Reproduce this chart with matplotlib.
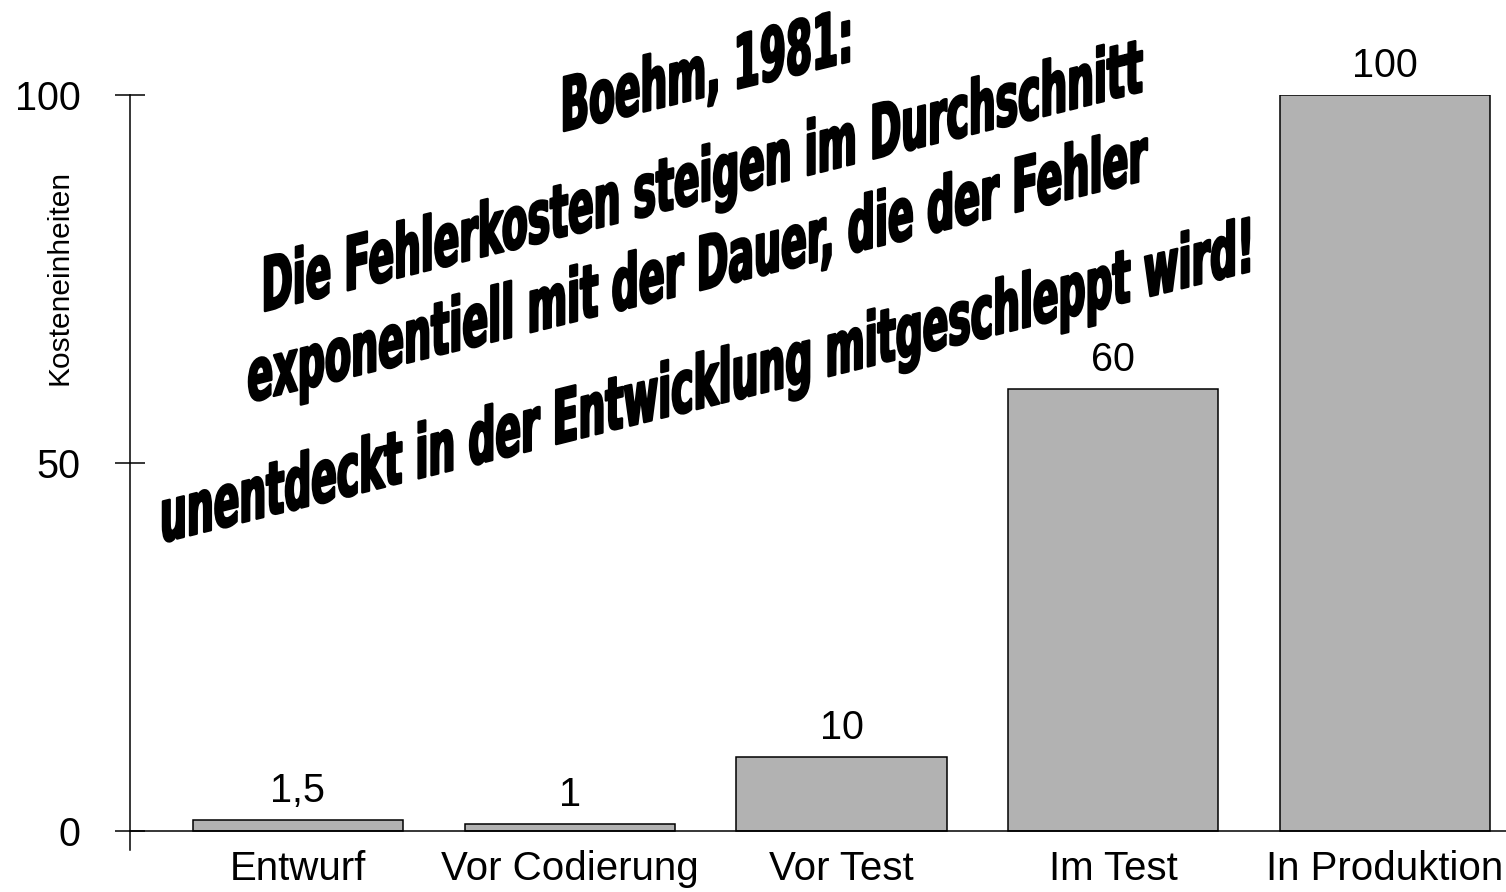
import numpy as np
import matplotlib
matplotlib.use("Agg")
import matplotlib.pyplot as plt
from matplotlib.textpath import TextPath
from matplotlib.font_manager import FontProperties
from matplotlib.patches import PathPatch
from matplotlib.transforms import Affine2D

plt.rcParams['font.family'] = ['Liberation Sans', 'DejaVu Sans']

# data
phases = ["Entwurf", "Vor Codierung", "Vor Test", "Im Test", "In Produktion"]
costs = [1.5, 1, 10, 60, 100]
cost_labels = ["1,5", "1", "10", "60", "100"]
yticks = [0, 50, 100]

headline = [
    "Boehm, 1981:",
    "Die Fehlerkosten steigen im Durchschnitt",
    "exponentiell mit der Dauer, die der Fehler",
    "unentdeckt in der Entwicklung mitgeschleppt wird!",
]
# baseline start/end in figure pixels (x0, y0, x1, y1), y measured from top
headline_base = [
    (563, 132, 850, 62),
    (264, 312, 1143, 92),
    (248, 403, 1148, 180),
    (162, 543, 1250, 272),
]

W, H = 1506, 892
fig = plt.figure(figsize=(W / 100, H / 100), dpi=100)

ax = fig.add_axes([130 / W, 42 / H, 1376 / W, 755 / H])
x = np.arange(len(phases))
ax.bar(x, costs, width=0.773, color='#b2b2b2', edgecolor='black', linewidth=1.1)

for xi, v, lab in zip(x, costs, cost_labels):
    ax.annotate(lab, (xi, v), xytext=(0, 13), textcoords='offset points',
                ha='center', va='baseline', fontsize=28.5)

ax.set_xlim(-0.618, 4.445)
ax.set_ylim(-2.58, 100)
ax.spines['top'].set_visible(False)
ax.spines['right'].set_visible(False)
ax.spines['bottom'].set_position(('data', 0))
ax.spines['left'].set_linewidth(1.1)
ax.spines['bottom'].set_linewidth(1.1)

ax.set_yticks(yticks)
ax.tick_params(axis='y', direction='inout', length=21.6, width=1.1, pad=25, labelsize=28.5)
ax.set_xticks(x)
ax.set_xticklabels(phases)
ax.tick_params(axis='x', length=0, pad=14, labelsize=29)

fig.text(60 / W, 1 - 277 / H, "Kosteneinheiten", rotation=90, ha='center', va='center', fontsize=21.5)

# slanted headline drawn as sheared text paths in pixel coordinates
ov = fig.add_axes([0, 0, 1, 1])
ov.set_xlim(0, W)
ov.set_ylim(H, 0)
ov.axis('off')
ov.patch.set_alpha(0)

fp = FontProperties(family='DejaVu Sans', weight='bold')
cap = TextPath((0, 0), "H", size=100, prop=fp).get_extents().height
cap_px = 54

for txt, (x0, y0, x1, y1) in zip(headline, headline_base):
    tp = TextPath((0, 0), txt, size=100, prop=fp)
    ext = tp.get_extents()
    sx = (x1 - x0 - 2) / ext.width
    sy = cap_px / cap
    slope = (y1 - y0) / (x1 - x0)
    shear = Affine2D(np.array([[1, 0, 0], [slope, 1, 0], [0, 0, 1]]))
    tr = Affine2D().translate(-ext.x0, 0).scale(sx, -sy) + shear + Affine2D().translate(x0 + 1, y0 - 1)
    path = tr.transform_path(tp)
    ov.add_patch(PathPatch(path, facecolor='black', edgecolor='black', linewidth=1.8,
                           joinstyle='round'))

fig.savefig("out.png", dpi=100)
